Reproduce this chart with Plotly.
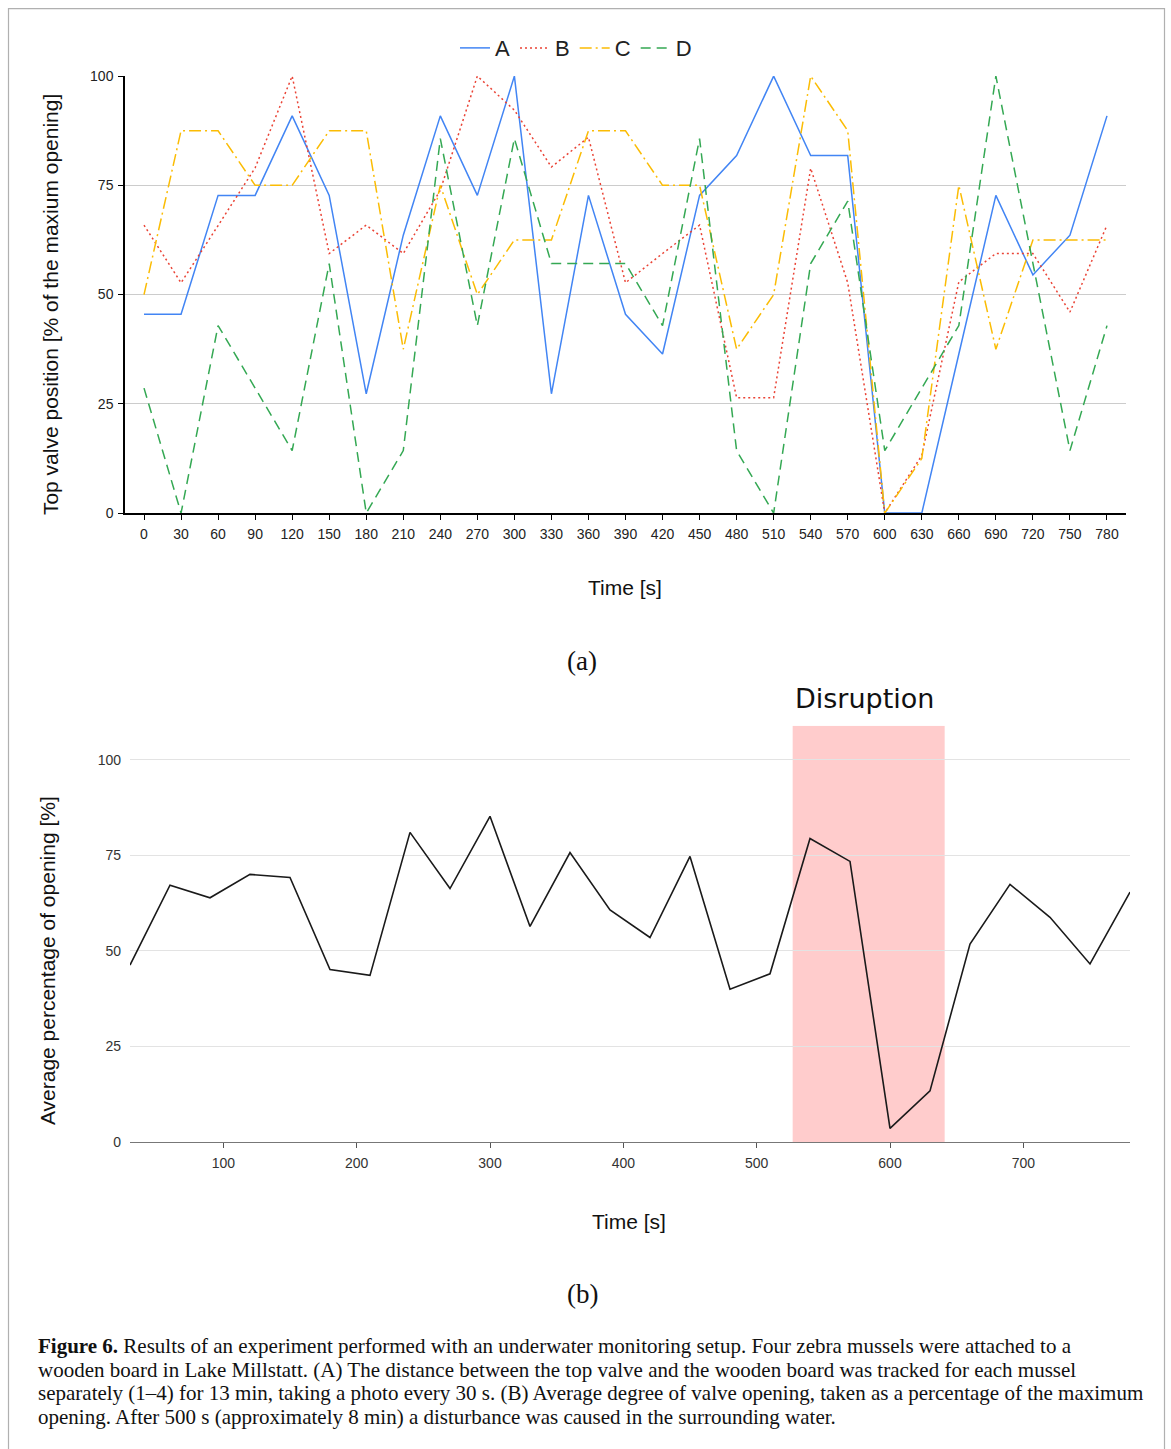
import plotly.graph_objects as go

W = 1171
HF = 1465            # figure height in page pixels
S = 1449 / 1465      # vertical scale applied when the page is photographed
TOP_BAND = 8         # blank band above the page in the photograph

time_s = [0, 30, 60, 90, 120, 150, 180, 210, 240, 270, 300, 330, 360, 390,
          420, 450, 480, 510, 540, 570, 600, 630, 660, 690, 720, 750, 780]

mussel_a = [45.5, 45.5, 72.7, 72.7, 90.9, 72.7, 27.3, 63.6, 90.9, 72.7, 100, 27.3, 72.7, 45.5,
            36.4, 72.7, 81.8, 100, 81.8, 81.8, 0, 0, 36.4, 72.7, 54.5, 63.6, 90.9]
mussel_b = [65.9, 52.7, 65.8, 79.0, 100, 59.4, 65.9, 59.4, 73.9, 100, 92.2, 79.2, 86.0, 52.7,
            59.4, 65.9, 26.4, 26.4, 78.9, 52.7, 0, 13.2, 52.9, 59.4, 59.4, 46.0, 65.9]
mussel_c = [50, 87.5, 87.5, 75, 75, 87.5, 87.5, 37.5, 75, 50, 62.5, 62.5, 87.5, 87.5,
            75, 75, 37.5, 50, 100, 87.5, 0, 12.5, 75, 37.5, 62.5, 62.5, 62.5]
mussel_d = [28.6, 0, 42.9, 28.6, 14.3, 57.1, 0, 14.3, 85.7, 42.9, 85.7, 57.1, 57.1, 57.1,
            42.9, 85.7, 14.3, 0, 57.1, 71.4, 14.3, 28.6, 42.9, 100, 57.1, 14.3, 42.9]

avg_time = time_s[1:]
avg_open = [46.3, 67.2, 63.9, 70.0, 69.2, 45.1, 43.6, 81.0, 66.3, 85.2, 56.4, 75.7, 60.7,
            53.5, 74.7, 40.0, 44.0, 79.4, 73.4, 3.6, 13.4, 51.8, 67.4, 58.8, 46.6, 65.4]

top_ticks = [0, 25, 50, 75, 100]
bottom_xticks = [100, 200, 300, 400, 500, 600, 700]
disruption = (527, 641)

series = [
    ("A", mussel_a, "#4285F4", "solid"),
    ("B", mussel_b, "#EA4335", "2px,3px"),
    ("C", mussel_c, "#FBBC04", "12px,4px,2px,4px"),
    ("D", mussel_d, "#34A853", "10px,6px"),
]

def px_x(p):
    return p / W

def px_y(t):
    return 1 - (t / S - TOP_BAND) / HF

fig = go.Figure()
for name, vals, col, dash in series:
    fig.add_trace(go.Scatter(x=time_s, y=vals, name=name, mode="lines",
                             line=dict(color=col, width=1.5, dash=dash),
                             xaxis="x", yaxis="y"))

fig.add_trace(go.Scatter(x=avg_time, y=avg_open, mode="lines", showlegend=False,
                         line=dict(color="#1a1a1a", width=1.6), xaxis="x2", yaxis="y2"))

tickfont = dict(family="Liberation Sans, Arial", size=14, color="#222")
tickfont2 = dict(family="Liberation Sans, Arial", size=14, color="#333")

fig.update_layout(
    width=W, height=HF, autosize=False,
    margin=dict(l=0, r=0, t=0, b=0),
    paper_bgcolor="white", plot_bgcolor="white",
    showlegend=True,
    legend=dict(orientation="h", x=px_x(576), y=px_y(48), xanchor="center", yanchor="middle",
                font=dict(family="Liberation Sans, Arial", size=22, color="#222"),
                itemwidth=30, tracegroupgap=0, bgcolor="rgba(0,0,0,0)"),
    xaxis=dict(domain=[px_x(125), px_x(1126)], range=[-15.4, 795.4],
               tickvals=time_s, ticks="outside", ticklen=5, tickcolor="black",
               showline=True, linecolor="black", linewidth=1.5, showgrid=False,
               zeroline=False, tickfont=tickfont, ticklabelstandoff=2, anchor="y"),
    yaxis=dict(domain=[px_y(513), px_y(76)], range=[0, 100],
               tickvals=top_ticks, ticks="outside", ticklen=5, tickcolor="black",
               showline=True, linecolor="black", linewidth=1.5, showgrid=True,
               gridcolor="#cccccc", gridwidth=1, zeroline=False, tickfont=tickfont,
               ticklabelstandoff=2, anchor="x"),
    xaxis2=dict(domain=[px_x(130), px_x(1130)], range=[30, 780],
                tickvals=bottom_xticks, ticks="outside", ticklen=5, tickcolor="#555",
                showline=True, linecolor="#777", linewidth=1, showgrid=False,
                zeroline=False, tickfont=tickfont2, ticklabelstandoff=3, anchor="y2"),
    yaxis2=dict(domain=[px_y(1142), px_y(725.6)], range=[0, 108.9],
                tickvals=top_ticks, ticks="", showline=False, showgrid=True,
                gridcolor="#e3e3e3", gridwidth=1, zeroline=False, tickfont=tickfont2,
                ticklabelstandoff=8, anchor="x2"),
)

# disruption band
fig.add_shape(type="rect", xref="x2", yref="y2", x0=disruption[0], x1=disruption[1],
              y0=0, y1=108.9, fillcolor="#FFCCCC", line=dict(width=0), layer="below")

# frame
fig.add_shape(type="rect", xref="paper", yref="paper", x0=px_x(8.5), x1=px_x(1164.5),
              y0=px_y(1480), y1=px_y(8.5), line=dict(color="#b0b0b0", width=1.2),
              fillcolor="rgba(0,0,0,0)", layer="below")

sans = "Liberation Sans, Arial"
ann = []
ann.append(dict(text="Top valve position [% of the maxium opening]", x=px_x(50), y=px_y(305),
                textangle=-90, font=dict(family=sans, size=21, color="#111")))
ann.append(dict(text="Time [s]", x=px_x(625), y=px_y(587),
                font=dict(family=sans, size=21, color="#111")))
ann.append(dict(text="(a)", x=px_x(582), y=px_y(661),
                font=dict(family="Liberation Serif, DejaVu Serif", size=27, color="#111")))
ann.append(dict(text="Disruption", x=px_x(864), y=px_y(698),
                font=dict(family="DejaVu Sans", size=27, color="#111")))
ann.append(dict(text="Average percentage of opening [%]", x=px_x(47), y=px_y(961),
                textangle=-90, font=dict(family=sans, size=21, color="#111")))
ann.append(dict(text="Time [s]", x=px_x(629), y=px_y(1221),
                font=dict(family=sans, size=21, color="#111")))
ann.append(dict(text="(b)", x=px_x(582), y=px_y(1294),
                font=dict(family="Liberation Serif, DejaVu Serif", size=27, color="#111")))

caption = [
    "<b>Figure 6.</b> Results of an experiment performed with an underwater monitoring setup. Four zebra mussels were attached to a",
    "wooden board in Lake Millstatt. (A) The distance between the top valve and the wooden board was tracked for each mussel",
    "separately (1–4) for 13 min, taking a photo every 30 s. (B) Average degree of valve opening, taken as a percentage of the maximum",
    "opening. After 500 s (approximately 8 min) a disturbance was caused in the surrounding water.",
]
cap_y = [1346, 1370, 1393, 1417]
for line, yy in zip(caption, cap_y):
    ann.append(dict(text=line, x=px_x(36), y=px_y(yy), xanchor="left",
                    font=dict(family="Liberation Serif, Times New Roman", size=21, color="#111")))

for a in ann:
    a.setdefault("xanchor", "center")
    a.update(xref="paper", yref="paper", yanchor="middle", showarrow=False)
fig.update_layout(annotations=ann)

post = (
    "document.documentElement.style.margin='0';"
    "document.documentElement.style.padding='0';"
    "document.body.style.margin='0';document.body.style.padding='0';"
    "document.documentElement.style.overflow='hidden';"
    "var g=document.querySelectorAll('.plotly-graph-div');"
    "for(var i=0;i<g.length;i++){g[i].style.position='fixed';g[i].style.top='0px';"
    "g[i].style.left='0px';g[i].style.margin='0';}"
)
fig.write_html("out.html", config={"responsive": False, "displayModeBar": False},
               post_script=post)
